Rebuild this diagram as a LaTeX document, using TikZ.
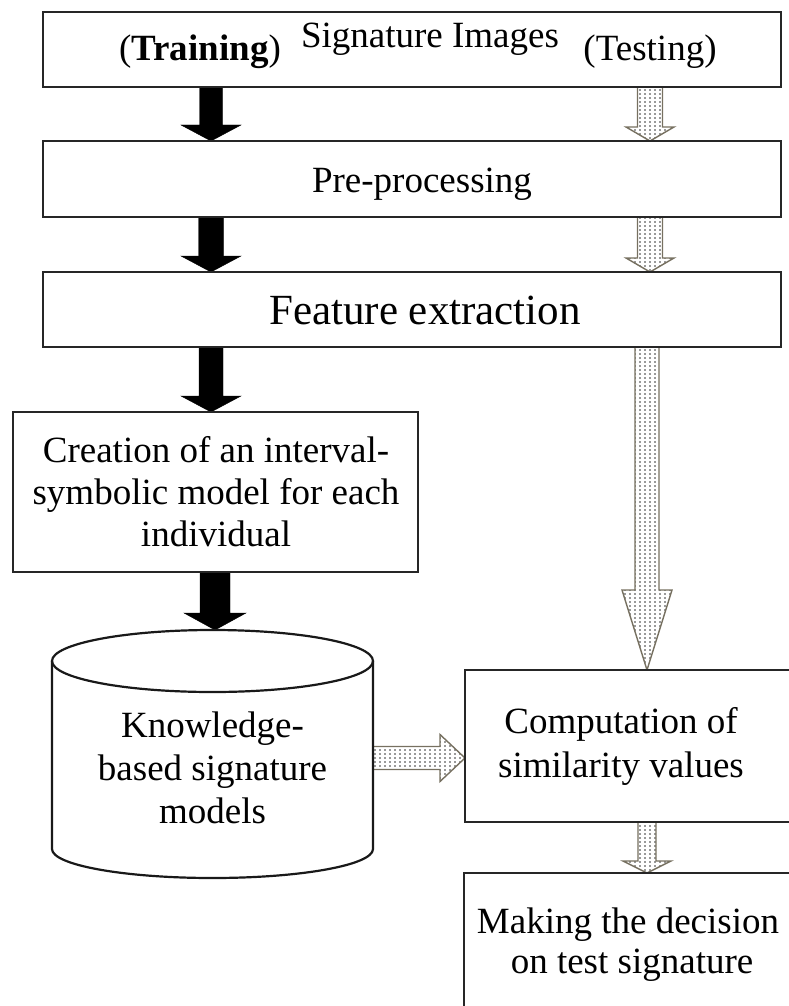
\documentclass[tikz,border=0pt]{standalone}
\usepackage{fontspec}
\setmainfont{Liberation Serif}
\usetikzlibrary{patterns,calc}

% sparse dot fill for the testing-path arrows
\pgfdeclarepatternformonly{sparsedots}{\pgfqpoint{-1pt}{-1pt}}{\pgfqpoint{1pt}{1pt}}{\pgfqpoint{5pt}{4pt}}{%
  \pgfpathcircle{\pgfqpoint{0pt}{0pt}}{0.8pt}\pgfusepath{fill}}

\pgfdeclarelayer{background}
\pgfsetlayers{background,main}

% block arrow pointing down: style, from, to, half shaft, half head, head length
\newcommand\vblockarrow[6]{%
  \path[#1] let \p1=(#2), \p2=(#3) in
    (\x1-#4pt,\y1) -- (\x1+#4pt,\y1) -- (\x1+#4pt,\y2+#6pt) -- (\x1+#5pt,\y2+#6pt)
    -- (\x1,\y2) -- (\x1-#5pt,\y2+#6pt) -- (\x1-#4pt,\y2+#6pt) -- cycle;}
% block arrow pointing right: style, from, to, half shaft, half head, head length
\newcommand\hblockarrow[6]{%
  \path[#1] let \p1=(#2), \p2=(#3) in
    (\x1,\y1+#4pt) -- (\x2-#6pt,\y1+#4pt) -- (\x2-#6pt,\y1+#5pt) -- (\x2,\y1)
    -- (\x2-#6pt,\y1-#5pt) -- (\x2-#6pt,\y1-#4pt) -- (\x1,\y1-#4pt) -- cycle;}

\begin{document}
\begin{tikzpicture}[x=1pt,y=-1pt,
  box/.style={draw=black!85, line width=2.4pt, inner sep=0pt, outer sep=0pt, fill=white},
  lbl/.style={anchor=base, inner sep=0pt, font=\fontsize{37}{42}\selectfont, text=black},
  biglbl/.style={anchor=base, inner sep=0pt, font=\fontsize{43}{48}\selectfont, text=black},
  solidarrow/.style={fill=black, draw=black, line width=0.4pt},
  dotarrow/.style={draw={rgb,255:red,118;green,112;blue,96}, line width=1.4pt,
                   pattern=sparsedots, pattern color=black!80},
  cylline/.style={draw=black!90, line width=2.2pt}]

\useasboundingbox (0,0) rectangle (789,1006);
\clip (0,0) rectangle (789,1006);

% columns of the two paths
\coordinate (colL) at (211,0);
\coordinate (colM) at (215,0);
\coordinate (colR) at (650,0);
\coordinate (colS) at (647,0);
\coordinate (rowD) at (0,758);

% boxes
\node[box, minimum width=738pt, minimum height=75pt] (b1) at (412,49.5) {};
\node[box, minimum width=738pt, minimum height=76pt] (b2) at (412,179) {};
\node[box, minimum width=738pt, minimum height=75pt] (b3) at (412,309.5) {};
\node[box, minimum width=405pt, minimum height=160pt] (b4) at (215.5,492) {};
\node[box, minimum width=340pt, minimum height=152pt] (comp) at (635,746) {};
\node[box, minimum width=346pt, minimum height=160pt] (dec) at (637,953) {};

% knowledge base cylinder
\node[inner sep=0pt, outer sep=0pt, minimum width=321pt, minimum height=248pt] (cyl) at (212.5,754) {};
\path[fill=white] (52,661) -- (52,849) arc[start angle=180, end angle=360, x radius=160.5pt, y radius=29pt]
  -- (373,661) arc[start angle=0, end angle=180, x radius=160.5pt, y radius=31pt] -- cycle;
\draw[cylline] (212.5,661) ellipse [x radius=160.5pt, y radius=31pt];
\draw[cylline] (52,661) -- (52,849) arc[start angle=180, end angle=360, x radius=160.5pt, y radius=29pt] -- (373,661);

% texts
\node[lbl] (tTrain) at (200,61) {(\textbf{Training})};
\node[lbl] (tSig) at (430,48) {Signature Images};
\node[lbl] (tTest) at (650,61) {(Testing)};
\node[lbl] (tPre) at (422,192) {Pre-processing};
\node[biglbl] (tFeat) at (425,324) {Feature extraction};
\node[lbl] (tCr1) at (216,462) {Creation of an interval-};
\node[lbl] (tCr2) at (216,504) {symbolic model for each};
\node[lbl] (tCr3) at (216,546) {individual};
\node[lbl] (tKb1) at (212.5,737) {Knowledge-};
\node[lbl] (tKb2) at (212.5,780) {based signature};
\node[lbl] (tKb3) at (212.5,823) {models};
\node[lbl] (tCo1) at (621,733) {Computation of};
\node[lbl] (tCo2) at (621,777) {similarity values};
\node[lbl] (tDe1) at (628,933) {Making the decision};
\node[lbl] (tDe2) at (632,973) {on test signature};

% connectors
\begin{pgfonlayer}{background}
  \vblockarrow{solidarrow}{b1.south -| colL}{b2.north -| colL}{11.5}{30}{16}
  \vblockarrow{solidarrow}{b2.south -| colL}{b3.north -| colL}{12.5}{30}{16}
  \vblockarrow{solidarrow}{b3.south -| colL}{b4.north -| colL}{12}{30}{16}
  \vblockarrow{solidarrow}{b4.south -| colM}{cyl.north -| colM}{15}{31}{17}
  \vblockarrow{dotarrow}{b1.south -| colR}{b2.north -| colR}{12.5}{24}{14}
  \vblockarrow{dotarrow}{b2.south -| colR}{b3.north -| colR}{12.5}{24}{14}
  \vblockarrow{dotarrow}{b3.south -| colS}{comp.north -| colS}{12}{25}{80}
  \hblockarrow{dotarrow}{cyl.east |- rowD}{comp.west |- rowD}{11.5}{23.5}{25}
  \vblockarrow{dotarrow}{comp.south -| colS}{dec.north -| colS}{9}{24}{12}
\end{pgfonlayer}
\end{tikzpicture}
\end{document}
